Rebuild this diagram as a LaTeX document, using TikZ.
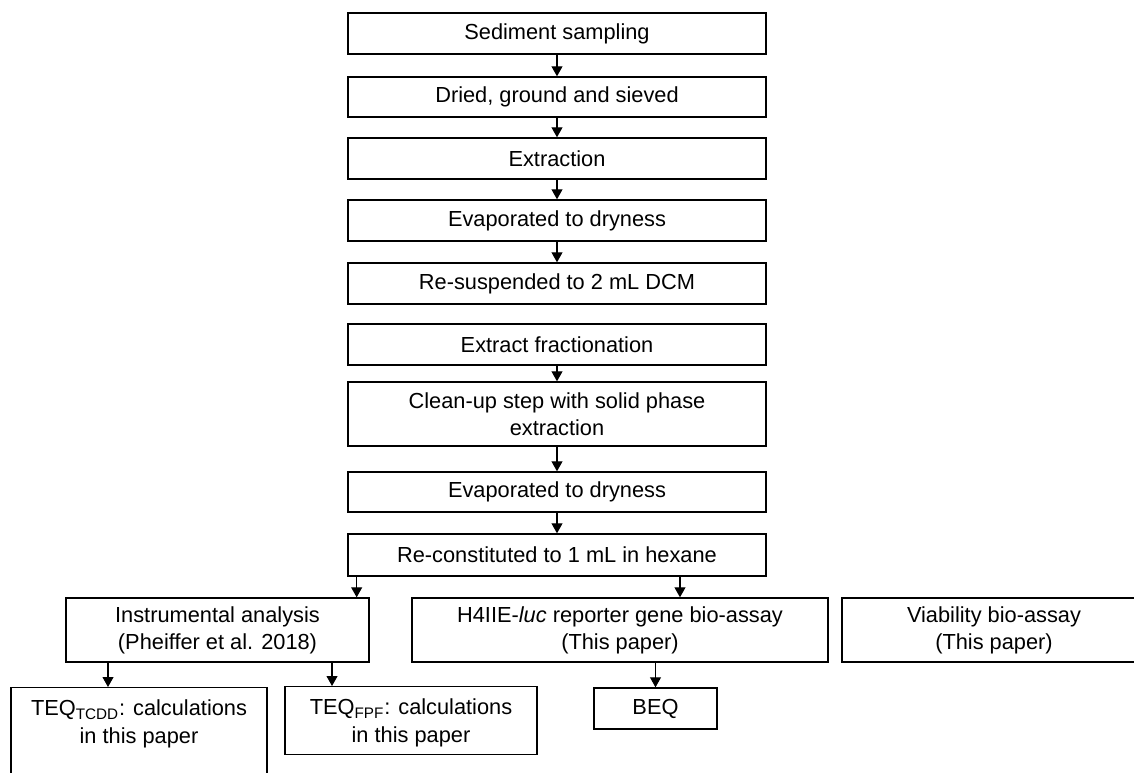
\documentclass[tikz,border=0pt]{standalone}
\usepackage{fontspec}
\setmainfont{Liberation Sans}
\usetikzlibrary{arrows.meta}

\tikzset{
  stepbox/.style={draw, line width=0.8pt, align=center, inner sep=0pt,
    font=\fontsize{12.4}{15.5}\selectfont},
  arr/.style={line width=0.6pt, -{Triangle[width=0.22cm,length=0.2cm]}}
}

\begin{document}
\begin{tikzpicture}[x=0.02cm, y=-0.02cm]
        % Frame
        \useasboundingbox (0,0) rectangle (1134,773);
        \clip (0,0) rectangle (1134,773);

        % Main column
        \node[stepbox, minimum width=8.36cm, minimum height=0.82cm] (samp) at (557,33.5) {Sediment sampling};
        \node[stepbox, minimum width=8.36cm, minimum height=0.80cm] (dried) at (557,97) {Dried, ground and sieved};
        \node[stepbox, minimum width=8.36cm, minimum height=0.82cm] (extr) at (557,158.5) {Extraction};
        \node[stepbox, minimum width=8.36cm, minimum height=0.82cm] (evapa) at (557,220.5) {Evaporated to dryness};
        \node[stepbox, minimum width=8.36cm, minimum height=0.82cm] (resus) at (557,283.5) {Re-suspended to 2 mL DCM};
        \node[stepbox, minimum width=8.36cm, minimum height=0.82cm] (fract) at (557,344.5) {Extract fractionation};
        \node[stepbox, minimum width=8.36cm, minimum height=1.28cm] (clean) at (557,414) {Clean-up step with solid phase\\extraction};
        \node[stepbox, minimum width=8.36cm, minimum height=0.80cm] (evapb) at (557,492) {Evaporated to dryness};
        \node[stepbox, minimum width=8.36cm, minimum height=0.84cm] (recon) at (557,555) {Re-constituted to 1 mL in hexane};

        % Arrows down the column
        \draw[arr] (samp) -- (dried);
        \draw[arr] (dried) -- (extr);
        \draw[arr] (extr) -- (evapa);
        \draw[arr] (evapa) -- (resus);
        \draw[arr] (fract) -- (clean);
        \draw[arr] (clean) -- (evapb);
        \draw[arr] (evapb) -- (recon);

        % Analyses
        \node[stepbox, minimum width=6.06cm, minimum height=1.28cm] (inst) at (217.5,630) {Instrumental analysis\\(Pheiffer et al. 2018)};
        \node[stepbox, minimum width=8.32cm, minimum height=1.28cm] (hluc) at (620,630) {H4IIE-\textit{luc} reporter gene bio-assay\\(This paper)};
        \node[stepbox, minimum width=6.08cm, minimum height=1.28cm] (viab) at (994,630) {Viability bio-assay\\(This paper)};

        \coordinate (ia) at ([xshift=-0.26cm]inst.north east);
        \coordinate (ha) at ([xshift=1.2cm]hluc.north);
        \draw[arr] (ia |- recon.south) -- (ia);
        \draw[arr] (ha |- recon.south) -- (ha);

        % Results
        \node[stepbox, minimum width=5.12cm, inner ysep=0.25cm, text depth=1.6cm, anchor=north] (tcdd) at (139,687) {TEQ\textsubscript{TCDD}: calculations\\in this paper};
        \node[stepbox, minimum width=5.04cm, inner ysep=0.25cm, text depth=0cm, anchor=north] (fpf) at (411,686) {TEQ\textsubscript{FPF}: calculations\\in this paper};
        \node[stepbox, minimum width=2.46cm, minimum height=0.82cm] (beq) at (655.5,708.5) {BEQ};

        \coordinate (ta) at ([xshift=-0.62cm]tcdd.north);
        \coordinate (fa) at ([xshift=-1.58cm]fpf.north);
        \draw[arr] (ta |- inst.south) -- (ta);
        \draw[arr] (fa |- inst.south) -- (fa);
        \draw[arr] (beq.north |- hluc.south) -- (beq.north);
    \end{tikzpicture}
\end{document}
